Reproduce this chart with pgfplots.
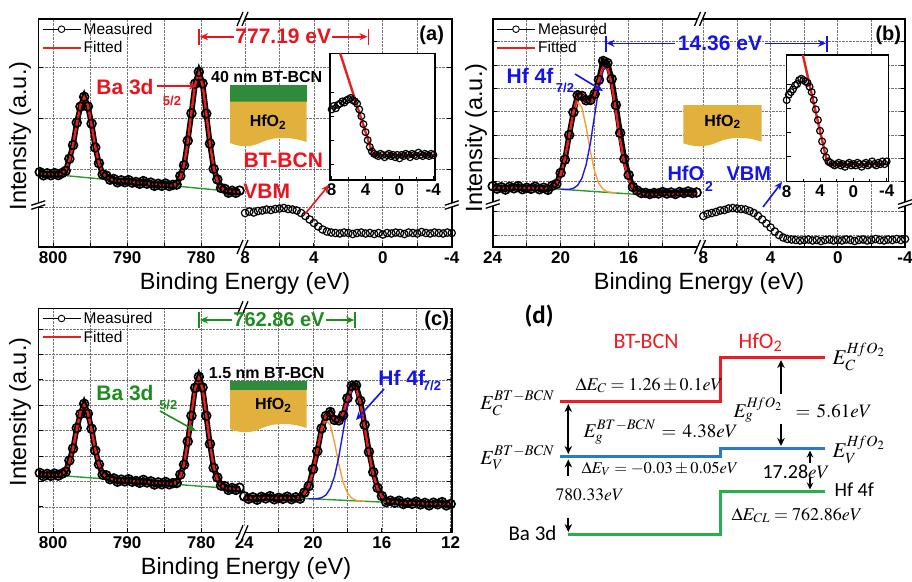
\documentclass[border=0pt]{standalone}
\usepackage{mathptmx}
\usepackage{fontspec}
\setmainfont{Liberation Sans}
\newfontfamily\calib{Carlito}
\usepackage{pgfplots}
\usepackage{pgfplotstable}
\pgfplotsset{compat=1.18}
\usetikzlibrary{arrows.meta}

\newcommand{\fs}[1]{\fontsize{#1}{#1}\selectfont}

\definecolor{fitred}{HTML}{E8201E}
\definecolor{annred}{HTML}{E8141E}
\definecolor{annblue}{HTML}{1414E6}
\definecolor{anngreen}{HTML}{1E8C1E}
\definecolor{compor}{HTML}{F5A030}
\definecolor{compbl}{HTML}{1A1AE0}
\definecolor{basegr}{HTML}{2E9A2E}
\definecolor{gold}{HTML}{E2B03C}
\definecolor{layergr}{HTML}{2E8B3A}
\definecolor{dred}{HTML}{EC1C24}
\definecolor{dblue}{HTML}{2A7BC4}
\definecolor{dgreen}{HTML}{24B04A}

% Ba 3d, 40 nm film (y in panel units)
\pgfplotstableread{
x fit meas
774.8 54.9 56.4
775.3 55.2 54.2
775.8 55.6 56.2
776.3 56.1 54.3
776.8 57.0 58.1
777.3 59.4 59.0
777.8 65.7 67.6
778.3 79.3 78.1
778.8 103.1 103.4
779.3 134.1 133.4
779.8 162.1 163.6
780.3 173.7 175.0
780.8 162.8 163.4
781.3 135.5 133.7
781.8 105.2 106.3
782.3 82.1 81.7
782.8 69.2 71.1
783.3 63.6 62.4
783.8 61.9 62.2
784.3 61.7 61.0
784.8 61.9 63.4
785.3 62.2 61.2
785.8 62.6 63.2
786.3 63.0 61.2
786.8 63.3 64.4
787.3 63.7 63.3
787.8 64.0 65.9
788.3 64.4 63.2
788.8 64.7 65.0
789.3 65.1 64.4
789.8 65.4 66.9
790.3 65.8 64.8
790.8 66.1 66.7
791.3 66.5 64.7
791.8 66.9 68.0
792.3 67.7 67.3
792.8 69.4 71.3
793.3 73.9 72.7
793.8 83.5 83.8
794.3 100.2 99.5
794.8 121.9 123.4
795.3 141.5 140.5
795.8 149.6 150.2
796.3 142.2 140.4
796.8 123.3 124.4
797.3 102.3 101.9
797.8 86.3 88.2
798.3 77.4 76.2
798.8 73.6 73.9
799.3 72.6 71.9
799.8 72.4 73.9
800.3 72.8 71.8
800.8 73.1 73.7
801.3 73.5 71.7
801.8 73.8 74.9
802.3 74.2 73.8
}\BaA

% valence band, 40 nm film
\pgfplotstableread{
x y
8.0 34
7.75 35.5
7.5 34.5
7.25 36
7.0 36.5
6.75 37.5
6.5 37
6.25 38
6.0 38.5
5.75 39
5.5 38
5.25 37.5
5.0 36.5
4.75 34
4.5 31
4.25 27.5
4.0 24
3.75 20.5
3.5 17.5
3.25 15.5
3.0 14.5
2.75 14
2.5 13.5
2.25 14.5
2.0 14
1.75 13
1.5 14
1.25 14.5
1.0 13.5
0.75 14
0.5 13
0.25 14
0.0 12.5
-0.25 14
-0.5 13.5
-0.75 14.5
-1.0 14
-1.25 13
-1.5 14.5
-1.75 14
-2.0 13.5
-2.25 15
-2.5 14
-2.75 13.5
-3.0 14.5
-3.25 14
-3.5 13.5
-3.75 14.5
-4.0 14
}\VbmA

% Hf 4f, bare HfO2
\pgfplotstableread{
x fit meas
24.0 59.3 60.8
23.75 59.3 58.3
23.5 59.2 59.8
23.25 59.2 57.4
23.0 59.1 60.2
22.75 59.1 58.7
22.5 59.0 60.9
22.25 59.0 57.8
22.0 58.9 59.2
21.75 58.9 58.2
21.5 58.8 60.3
21.25 58.8 57.8
21.0 58.7 59.3
20.75 59.0 57.2
20.5 60.1 61.2
20.25 63.5 63.1
20.0 72.2 74.1
19.75 88.5 87.3
19.5 111.7 112.0
19.25 135.4 134.7
19.0 150.3 151.8
18.75 152.1 151.1
18.5 146.1 146.7
18.25 143.7 147.0
18.0 151.9 153.0
17.75 167.6 167.2
17.5 180.4 186.0
17.25 179.8 184.0
17.0 163.5 168.0
16.75 136.4 142.0
16.5 107.3 114.0
16.25 83.5 88.0
16.0 67.8 72.0
15.75 59.0 60.0
15.5 54.8 56.5
15.25 53.0 54.0
15.0 52.2 54.1
14.75 52.1 53.0
14.5 52.2 54.0
14.25 52.2 53.5
14.0 52.3 55.0
13.75 52.4 53.5
13.5 52.5 54.5
13.25 52.5 53.0
13.0 52.6 55.0
12.75 52.7 54.0
12.5 52.8 55.5
12.25 52.8 54.0
12.0 52.9 54.5
}\HfB

\pgfplotstableread{
x y
21.0 58.7
20.75 59.0
20.5 60.1
20.25 63.5
20.0 72.2
19.75 88.4
19.5 111.2
19.25 133.6
19.0 145.3
18.75 139.7
18.5 119.8
18.25 95.4
18.0 75.5
17.75 63.4
17.5 57.7
17.25 55.3
17.0 54.5
16.75 54.1
}\HfBor

\pgfplotstableread{
x y
20.0 57.8
19.75 57.6
19.5 57.7
19.25 58.7
19.0 61.7
18.75 68.8
18.5 82.4
18.25 104.1
18.0 131.9
17.75 159.4
17.5 177.6
17.25 179.1
17.0 163.3
16.75 136.4
16.5 107.3
16.25 83.5
16.0 67.8
15.75 59.0
15.5 54.8
15.25 53.0
15.0 52.2
14.75 52.1
}\HfBbl

% valence band, bare HfO2
\pgfplotstableread{
x y
8.0 31
7.75 33
7.5 34
7.25 35
7.0 36.5
6.75 37
6.5 38.5
6.25 39
6.0 38.5
5.75 38
5.5 37.5
5.25 36
5.0 34
4.75 31
4.5 27.5
4.25 23.5
4.0 19.5
3.75 15.5
3.5 12
3.25 9.5
3.0 8
2.75 7.5
2.5 7
2.25 6.5
2.0 7
1.75 7.5
1.5 6.5
1.25 7
1.0 6
0.75 7
0.5 7.5
0.25 6.5
0.0 7
-0.25 6.5
-0.5 7.5
-0.75 7
-1.0 6
-1.25 7
-1.5 7.5
-1.75 6.5
-2.0 7
-2.25 8
-2.5 7
-2.75 6.5
-3.0 7.5
-3.25 7
-3.5 8
-3.75 7
-4.0 8
}\VbmB

% Ba 3d, 1.5 nm film
\pgfplotstableread{
x fit meas
774.8 43.1 44.6
775.3 43.4 42.4
775.8 43.7 44.3
776.3 44.2 42.4
776.8 45.0 46.1
777.3 47.1 46.7
777.8 53.0 54.9
778.3 65.7 64.5
778.8 88.1 88.4
779.3 117.2 116.5
779.8 143.4 144.9
780.3 154.2 155.5
780.8 143.9 144.5
781.3 118.3 116.5
781.8 89.8 90.9
782.3 68.0 67.6
782.8 55.8 57.7
783.3 50.5 49.3
783.8 48.9 49.2
784.3 48.7 48.0
784.8 48.8 50.3
785.3 49.0 48.0
785.8 49.3 49.9
786.3 49.6 47.8
786.8 49.9 51.0
787.3 50.2 49.8
787.8 50.5 52.4
788.3 50.7 49.5
788.8 51.0 51.3
789.3 51.3 50.6
789.8 51.6 53.1
790.3 51.9 50.9
790.8 52.1 52.7
791.3 52.4 50.6
791.8 52.8 53.9
792.3 53.5 53.1
792.8 55.0 56.9
793.3 58.9 57.7
793.8 67.6 67.9
794.3 82.5 81.8
794.8 102.1 103.6
795.3 119.6 118.6
795.8 127.0 128.5
796.3 120.1 118.3
796.8 103.2 104.3
797.3 84.2 83.8
797.8 69.9 71.8
798.3 61.8 60.6
798.8 58.3 58.6
799.3 57.4 56.7
799.8 57.2 58.7
800.3 57.5 56.5
800.8 57.8 58.4
801.3 58.0 56.2
801.8 58.3 59.4
802.3 58.6 58.2
}\BaC

% Hf 4f, 1.5 nm film
\pgfplotstableread{
x fit meas
24.0 34.5 36.0
23.75 34.5 33.5
23.5 34.4 35.0
23.25 34.4 32.6
23.0 34.3 35.4
22.75 34.3 33.9
22.5 34.3 36.2
22.25 34.2 33.0
22.0 34.2 34.5
21.75 34.2 33.5
21.5 34.1 35.6
21.25 34.1 33.1
21.0 34.4 35.0
20.75 35.5 33.7
20.5 38.7 39.8
20.25 46.6 46.2
20.0 61.3 63.2
19.75 82.3 81.1
19.5 103.6 103.9
19.25 117.0 116.3
19.0 118.8 120.3
18.75 113.4 112.4
18.5 111.3 111.9
18.25 118.8 117.0
18.0 133.0 134.1
17.75 144.5 146.5
17.5 144.1 147.0
17.25 129.5 131.5
17.0 105.1 107.5
16.75 79.0 80.5
16.5 57.7 60.2
16.25 43.5 44.5
16.0 35.7 36.3
15.75 32.0 30.2
15.5 30.5 31.6
15.25 30.0 29.6
15.0 29.6 31.5
14.75 29.5 28.3
14.5 29.4 29.7
14.25 29.2 28.5
14.0 29.1 30.6
13.75 28.9 27.9
13.5 28.8 29.4
13.25 28.7 26.9
13.0 28.5 29.6
12.75 28.4 28.0
12.5 28.3 30.2
12.25 28.1 26.9
12.0 28.0 28.3
}\HfC

\pgfplotstableread{
x y
21.25 34.1
21.0 34.4
20.75 35.5
20.5 38.7
20.25 46.6
20.0 61.2
19.75 81.8
19.5 102.0
19.25 112.5
19.0 107.6
18.75 89.7
18.5 67.8
18.25 50.0
18.0 39.2
17.75 34.1
17.5 32.0
17.25 31.4
17.0 31.0
}\HfCor

\pgfplotstableread{
x y
20.25 33.6
20.0 33.5
19.75 33.7
19.5 34.6
19.25 37.3
19.0 43.8
18.75 56.1
18.5 75.7
18.25 100.8
18.0 125.6
17.75 142.0
17.5 143.5
17.25 129.3
17.0 105.1
16.75 79.0
16.5 57.7
16.25 43.5
16.0 35.7
15.75 32.0
15.5 30.5
15.25 30.0
15.0 29.6
}\HfCbl

\pgfplotsset{
  xps/.style={scale only axis, anchor=center, axis line style={draw=none},
    tick align=inside, major tick length=4.5pt,
    every tick/.append style={black, line width=1pt},
    grid=major, grid style={densely dotted, black!55, line width=0.7pt},
    yticklabels={}, xtick pos=left,
    ticklabel style={font=\bfseries\fs{17}},
    xticklabel style={yshift=-1pt},
    /pgf/number format/assume math mode=true,
    x dir=reverse, ymin=0},
  inset/.style={scale only axis, anchor=center, axis line style={line width=1.4pt},
    axis background/.style={fill=white},
    tick align=inside, major tick length=4pt, minor tick length=3pt,
    every tick/.append style={black, line width=1pt},
    yticklabels={}, xtick pos=left, ytick pos=left,
    xtick={-4,0,4,8}, minor xtick={-2,2,6}, xticklabels={-4,0,4,8},
    ticklabel style={font=\bfseries\fs{17}},
    x dir=reverse, xmin=-4.2},
  meas/.style={black, line width=5.5pt, mark=o, mark size=4.4pt,
    mark options={solid, draw=black, line width=1.7pt}},
  circ/.style={only marks, mark=o, mark size=3.7pt,
    mark options={draw=black, line width=1.2pt}},
  fitl/.style={fitred, line width=2.4pt, no markers},
  lgd/.style={legend style={draw=none, fill=none, at={(axis description cs:0.012,0.995)},
    anchor=north west, font=\fs{15.5}, inner sep=0.5pt, row sep=2pt},
    legend cell align=left},
  measleg/.style={legend image code/.code={
    \draw[black, line width=0.8pt] (0pt,0pt) -- (38pt,0pt);
    \draw[black, line width=0.9pt, fill=white] (19pt,0pt) circle (3.3pt);}},
  fitleg/.style={legend image code/.code={
    \draw[fitred, line width=2.2pt] (0pt,0pt) -- (38pt,0pt);}},
}

\begin{document}
\begin{tikzpicture}
\useasboundingbox (0pt,0pt) rectangle (912pt,-581pt);

% ---------- (a) core level ----------
\begin{axis}[xps, lgd, at={(140.4pt,-133pt)}, width=204.2pt, height=228pt,
  xmin=774.4, xmax=802, ymax=228,
  xtick={780,785,790,795,800}, xticklabels={780,,790,,800},
  ytick={39.3,78,128.7,179.3}, ytick pos=left]
\addlegendimage{measleg}\addlegendentry{Measured}
\addlegendimage{fitleg}\addlegendentry{Fitted}
\addplot[meas, forget plot] table[x=x, y=meas] {\BaA};
\addplot[basegr, line width=1.4pt, forget plot] coordinates {(798.2,71.3) (775.1,55.1)};
\addplot[fitl, forget plot] table[x=x, y=fit] {\BaA};
\end{axis}
% ---------- (a) valence band ----------
\begin{axis}[xps, at={(347.1pt,-133pt)}, width=209.2pt, height=228pt,
  xmin=-4, xmax=8.15, ymax=228,
  xtick={-4,-2,0,2,4,6,8}, xticklabels={-4,,0,,4,,8},
  ytick={39.3,78,128.7,179.3}, ytick pos=right]
\addplot[circ] table {\VbmA};
\end{axis}
\begin{axis}[inset, at={(382.5pt,-116.65pt)}, width=105pt, height=126.7pt,
  xmax=8.2, ymin=3.0, ymax=58.6, ytick={10,20.5,31,41.5}]
\addplot[circ, mark size=3.4pt] table {\VbmA};
\addplot[fitl] coordinates {(7.0,58.6) (3.13,14) (-4.2,14)};
\end{axis}

% ---------- (b) core level ----------
\begin{axis}[xps, lgd, at={(596.35pt,-133pt)}, width=207.3pt, height=228pt,
  xmin=11.8, xmax=24, ymax=228,
  xtick={14,16,18,20,22,24}, xticklabels={,16,,20,,24},
  ytick={12,35.3,65.3,88.7,112,135.3,158.7,182,205.3}, ytick pos=left]
\addlegendimage{measleg}\addlegendentry{Measured}
\addlegendimage{fitleg}\addlegendentry{Fitted}
\addplot[meas, forget plot] table[x=x, y=meas] {\HfB};
\addplot[basegr, line width=1.4pt, forget plot] coordinates {(20.8,58.7) (15.0,52.0)};
\addplot[compor, line width=1.4pt, forget plot] table {\HfBor};
\addplot[compbl, line width=1.4pt, forget plot] table {\HfBbl};
\addplot[fitl, forget plot] table[x=x, y=fit] {\HfB};
\end{axis}
% ---------- (b) valence band ----------
\begin{axis}[xps, at={(802.5pt,-133pt)}, width=205pt, height=228pt,
  xmin=-4, xmax=8.2, ymax=228,
  xtick={-4,-2,0,2,4,6,8}, xticklabels={-4,,0,,4,,8},
  ytick={12,35.3,65.3,88.7,112,135.3,158.7,182,205.3}, ytick pos=right]
\addplot[circ] table {\VbmB};
\end{axis}
\begin{axis}[inset, at={(837.5pt,-118.35pt)}, width=101.6pt, height=126.7pt,
  xmax=8.0, ymin=0.4, ymax=47.9, ytick={10,19,28,37}]
\addplot[circ, mark size=3.4pt] table {\VbmB};
\addplot[fitl] coordinates {(6.06,47.9) (3.1,7) (-4.2,7)};
\end{axis}

% ---------- (c) Ba 3d ----------
\begin{axis}[xps, lgd, at={(140.4pt,-420.3pt)}, width=204.2pt, height=224pt,
  xmin=774.4, xmax=802, ymax=224,
  xtick={780,785,790,795,800}, xticklabels={780,,790,,800},
  ytick={25.4,50.8,76.2,101.6,127,152.4,177.8,203.2}, ytick pos=left]
\addlegendimage{measleg}\addlegendentry{Measured}
\addlegendimage{fitleg}\addlegendentry{Fitted}
\addplot[meas, forget plot] table[x=x, y=meas] {\BaC};
\addplot[basegr, line width=1.4pt, forget plot] coordinates {(798.2,56.3) (777.4,44.6)};
\addplot[fitl, forget plot] table[x=x, y=fit] {\BaC};
\end{axis}
% ---------- (c) Hf 4f ----------
\begin{axis}[xps, at={(347.1pt,-420.3pt)}, width=209.2pt, height=224pt,
  xmin=11.94, xmax=24.1, ymax=224,
  xtick={12,14,16,18,20,22,24}, xticklabels={12,,16,,20,,24},
  ytick={25.4,50.8,76.2,101.6,127,152.4,177.8,203.2}, ytick pos=right]
\addplot[meas] table[x=x, y=meas] {\HfC};
\addplot[basegr, line width=1.4pt] coordinates {(20.7,34.0) (15.7,30.0)};
\addplot[compor, line width=1.4pt] table {\HfCor};
\addplot[compbl, line width=1.4pt] table {\HfCbl};
\addplot[fitl] table[x=x, y=fit] {\HfC};
\end{axis}

% ---------- (d) band diagram ----------
\begin{axis}[hide axis, scale only axis, anchor=center, at={(681pt,-438pt)},
  width=462pt, height=286pt, xmin=450, xmax=912, ymin=295, ymax=581,
  y dir=reverse, clip=false, every node/.append style={inner sep=0pt}]
\addplot[dred, line width=3pt] coordinates {(560,401) (720.7,401) (720.7,357.7) (825,357.7)};
\addplot[dblue, line width=3pt] coordinates {(560,456.7) (720.7,456.7) (720.7,448.3) (825,448.3)};
\addplot[dgreen, line width=3pt] coordinates {(568.3,534.3) (720.7,534.3) (720.7,491.7) (825,491.7)};
\draw[black, line width=2.2pt, {Stealth[length=8pt,width=7.5pt]}-{Stealth[length=8pt,width=7.5pt]}] (axis cs:568.3,404) -- (axis cs:568.3,454);
\draw[black, line width=2.2pt, -{Stealth[length=8pt,width=7.5pt]}] (axis cs:568.3,476) -- (axis cs:568.3,459.5);
\draw[black, line width=2.2pt, -{Stealth[length=8pt,width=7.5pt]}] (axis cs:568.3,518) -- (axis cs:568.3,532);
\draw[black, line width=2.2pt, -{Stealth[length=8pt,width=7.5pt]}] (axis cs:781,394) -- (axis cs:781,360);
\draw[black, line width=2.2pt, -{Stealth[length=8pt,width=7.5pt]}] (axis cs:781,424) -- (axis cs:781,446);
\draw[black, line width=2.2pt, -{Stealth[length=7pt,width=6.5pt]}] (axis cs:810,463) -- (axis cs:810,450.5);
\draw[black, line width=2.2pt, -{Stealth[length=7pt,width=6.5pt]}] (axis cs:810,478) -- (axis cs:810,489.5);
\node[anchor=base west, font=\calib\bfseries\fs{25}] at (axis cs:521,323.3) {(d)};
\node[anchor=base west, text=dred, font=\calib\fs{22}] at (axis cs:610,348.3) {BT-BCN};
\node[anchor=base west, text=dred, font=\calib\fs{22}] at (axis cs:735,348.3) {HfO\textsubscript{2}};
\node[anchor=base east, font=\fs{20}] at (axis cs:558,409) {$E_C^{BT-BCN}$};
\node[anchor=base east, font=\fs{20}] at (axis cs:558,464) {$E_V^{BT-BCN}$};
\node[anchor=base west, font=\fs{18}] at (axis cs:572,390) {$\Delta E_C=1.26\pm0.1eV$};
\node[anchor=base west, font=\fs{19.5}] at (axis cs:580,437) {$E_g^{BT-BCN}$};
\node[anchor=base west, font=\fs{19}] at (axis cs:658,437) {$=\,4.38eV$};
\node[anchor=base west, font=\fs{16.5}] at (axis cs:578,473) {$\Delta E_V=-0.03\pm0.05eV$};
\node[anchor=base west, font=\fs{17.5}] at (axis cs:552,500) {$780.33eV$};
\node[anchor=base west, font=\calib\fs{21}] at (axis cs:505,540) {Ba 3d};
\node[anchor=base west, font=\fs{21}] at (axis cs:829,364) {$E_C^{H\!fO_2}$};
\node[anchor=base west, font=\fs{19.5}] at (axis cs:730,417) {$E_g^{H\!fO_2}$};
\node[anchor=base west, font=\fs{19}] at (axis cs:792,417) {$=\,5.61eV$};
\node[anchor=base west, font=\fs{21}] at (axis cs:829,457) {$E_V^{H\!fO_2}$};
\node[anchor=base west, font=\fs{19}] at (axis cs:759,478) {{\calib\fs{20}17.28}$eV$};
\node[anchor=base west, font=\calib\fs{20}] at (axis cs:831,496.7) {Hf 4f};
\node[anchor=base west, font=\fs{18}] at (axis cs:728,520) {$\Delta E_{CL}=762.86eV$};
\end{axis}

% ---------- frames, breaks and notes ----------
\begin{scope}[x=1pt, y=-1pt]
\draw[line width=1.6pt] (38.3,19) rectangle (451.7,247);
\draw[line width=1.6pt] (492.7,19) rectangle (905,247);
\draw[line width=1.6pt] (38.3,308.3) rectangle (451.7,532.3);
% x breaks
\foreach \bx/\by in {242.5/19, 242.5/247, 700/19, 700/247, 242.5/308.3, 242.5/532.3} {
  \fill[white] (\bx-5,\by+6.5) -- (\bx-1,\by+6.5) -- (\bx+5,\by-6.5) -- (\bx+1,\by-6.5) -- cycle;
  \draw[line width=1.3pt] (\bx-5.5,\by+7) -- (\bx+0.5,\by-7);
  \draw[line width=1.3pt] (\bx-0.5,\by+7) -- (\bx+5.5,\by-7);
}
% y breaks
\foreach \bx/\by in {38.3/204, 451.7/204, 492.7/203, 905/203} {
  \fill[white] (\bx-6,\by+1) -- (\bx+6,\by-3) -- (\bx+6,\by+1) -- (\bx-6,\by+5) -- cycle;
  \draw[line width=1.3pt] (\bx-7,\by+1.3) -- (\bx+7,\by-3.3);
  \draw[line width=1.3pt] (\bx-7,\by+5.3) -- (\bx+7,\by+0.7);
}
% axis labels
\node[font=\fs{23.5}] at (245,283) {Binding Energy (eV)};
\node[font=\fs{23.5}] at (699,283) {Binding Energy (eV)};
\node[font=\fs{23.5}] at (246,568.5) {Binding Energy (eV)};
\node[font=\fs{23.5}, rotate=90] at (20,136) {Intensity (a.u.)};
\node[font=\fs{23.5}, rotate=90] at (476,138) {Intensity (a.u.)};
\node[font=\fs{23.5}, rotate=90] at (20,412) {Intensity (a.u.)};

% (a) notes
\node[font=\bfseries\fs{20}] at (431.7,35) {(a)};
\draw[annred, line width=1.6pt] (199,29) -- (199,45);
\draw[annred, line width=1.6pt] (368.3,29) -- (368.3,45);
\draw[annred, line width=1.6pt, -{Stealth[length=8pt,width=7pt]}] (234,36.7) -- (200,36.7);
\draw[annred, line width=1.6pt, -{Stealth[length=8pt,width=7pt]}] (332,36.7) -- (367.5,36.7);
\node[text=annred, font=\bfseries\fs{21}] at (283.3,36.7) {777.19 eV};
\node[text=annred, font=\bfseries\fs{21}] at (125,86.7) {Ba 3d};
\node[text=annred, font=\bfseries\fs{13}] at (172,100.5) {5/2};
\draw[annred, line width=1.6pt, -{Stealth[length=8pt,width=7pt]}] (157,86) -- (197,86);
\node[font=\bfseries\fs{16}] at (266.7,76.7) {40 nm BT-BCN};
\fill[layergr] (230,85) rectangle (306.7,101.7);
\fill[gold] (230,101.7) -- (306.7,101.7) -- (306.7,142) .. controls (292,137) and (276,136) .. (262,142) .. controls (250,148) and (240,147) .. (230,143) -- cycle;
\node[font=\bfseries\fs{16}] at (268,122) {HfO\textsubscript{2}};
\node[text=annred, font=\bfseries\fs{21}] at (283.3,160) {BT-BCN};
\node[text=annred, font=\bfseries\fs{21}] at (266.7,191.7) {VBM};
\draw[annred, line width=1.6pt, -{Stealth[length=8pt,width=7pt]}] (305,214) -- (329,185);

% (b) notes
\node[font=\bfseries\fs{20}] at (888.3,35) {(b)};
\draw[annblue, line width=1.6pt] (605.7,35.5) -- (605.7,51.5);
\draw[annblue, line width=1.6pt] (826.7,35.5) -- (826.7,51.5);
\draw[annblue, line width=1.6pt, -{Stealth[length=8pt,width=7pt]}] (675,43.3) -- (606.5,43.3);
\draw[annblue, line width=1.6pt, -{Stealth[length=8pt,width=7pt]}] (765,43.3) -- (826,43.3);
\node[text=annblue, font=\bfseries\fs{21}] at (720,43.3) {14.36 eV};
\node[text=annblue, font=\bfseries\fs{21}] at (530,76) {Hf 4f};
\node[text=annblue, font=\bfseries\fs{13}] at (565,88) {7/2};
\draw[annblue, line width=1.6pt, -{Stealth[length=8pt,width=7pt]}] (575,74) -- (603,91);
\fill[gold] (683.3,105) -- (761.7,105) -- (761.7,141.7) .. controls (748,137) and (732,136) .. (718,142) .. controls (705,148) and (694,147) .. (683.3,143.3) -- cycle;
\node[font=\bfseries\fs{16}] at (722.5,121.7) {HfO\textsubscript{2}};
\node[anchor=west, text=annblue, font=\bfseries\fs{20}] at (664,173.3) {HfO};
\node[text=annblue, font=\bfseries\fs{14}] at (709,187) {2};
\node[anchor=west, text=annblue, font=\bfseries\fs{20}] at (723,173.3) {VBM};
\draw[annblue, line width=1.6pt, -{Stealth[length=8pt,width=7pt]}] (763,207) -- (782,182);

% (c) notes
\node[font=\bfseries\fs{20}] at (436.7,320) {(c)};
\draw[anngreen, line width=1.6pt] (199,312) -- (199,328);
\draw[anngreen, line width=1.6pt] (355,312) -- (355,328);
\draw[anngreen, line width=1.6pt, -{Stealth[length=8pt,width=7pt]}] (232,320) -- (200,320);
\draw[anngreen, line width=1.6pt, -{Stealth[length=8pt,width=7pt]}] (326,320) -- (354.2,320);
\node[text=anngreen, font=\bfseries\fs{20}] at (279,320) {762.86 eV};
\node[text=anngreen, font=\bfseries\fs{21}] at (125,393.3) {Ba 3d};
\node[text=anngreen, font=\bfseries\fs{13}] at (168.3,405) {5/2};
\draw[anngreen, line width=1.6pt, -{Stealth[length=8pt,width=7pt]}] (160,411) -- (196,431);
\node[font=\bfseries\fs{16}] at (266.7,373.3) {1.5 nm BT-BCN};
\fill[layergr] (230,381) rectangle (306.7,390);
\fill[gold] (230,390) -- (306.7,390) -- (306.7,428) .. controls (292,423) and (276,422) .. (262,428) .. controls (250,434) and (240,433) .. (230,429) -- cycle;
\node[font=\bfseries\fs{16}] at (273.3,405) {HfO\textsubscript{2}};
\node[text=annblue, font=\bfseries\fs{21}] at (401.7,378.3) {Hf 4f};
\node[text=annblue, font=\bfseries\fs{13}] at (432,386) {7/2};
\draw[annblue, line width=1.6pt, -{Stealth[length=8pt,width=7pt]}] (384,389) -- (356,420);
\end{scope}
\end{tikzpicture}
\end{document}
